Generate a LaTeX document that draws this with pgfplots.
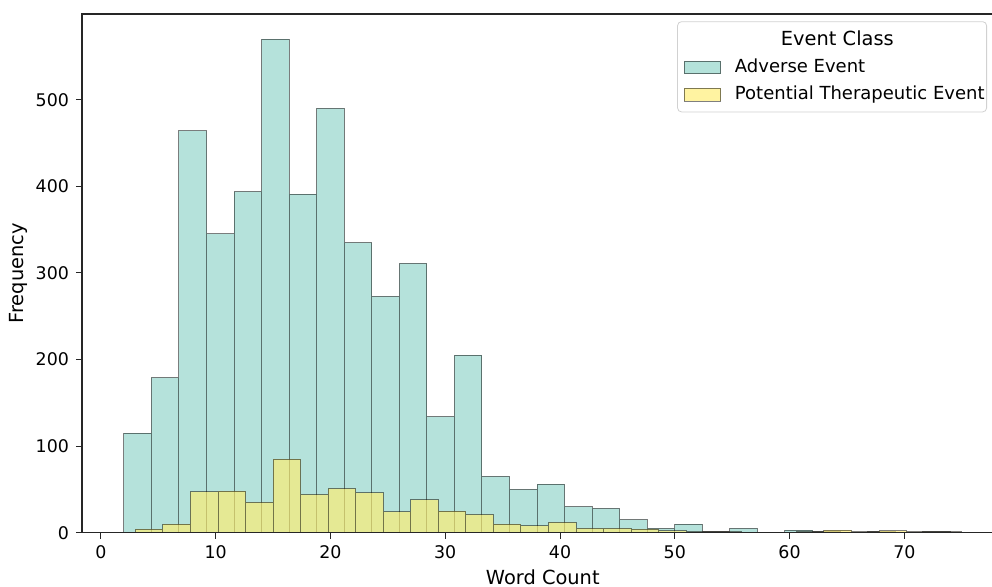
\documentclass[border=0pt]{standalone}
\usepackage{fontspec}
\setmainfont{DejaVu Sans}
\usepackage{pgfplots}
\pgfplotsset{compat=1.18}
\usepackage{pgfplotstable}
\definecolor{tealthree}{HTML}{8DD3C7}
\definecolor{yelthree}{HTML}{FFED6F}
\pgfplotsset{mylegend/.style={legend image code/.code={\path (-2.5pt,0pt); \draw[##1, sharp corners, line width=0.4pt] (0pt,-3.15pt) rectangle (18.3pt,3.15pt); \path (24.7pt,0pt);}}}

\pgfplotstableread{
x y
2.0 115
4.4 179
6.8 464
9.2 345
11.6 394
14.0 570
16.4 391
18.8 490
21.2 335
23.6 273
26.0 311
28.4 134
30.8 205
33.2 65
35.6 50
38.0 56
40.4 30
42.8 28
45.2 15
47.6 5
50.0 10
52.4 1
54.8 5
57.2 0
59.6 3
62.0 1
64.4 0
66.8 1
69.2 0
71.6 1
74.0 0
}\adverse

\pgfplotstableread{
x y
3.0 4
5.4 10
7.8 47
10.2 48
12.6 35
15.0 85
17.4 44
19.8 51
22.2 46
24.6 24
27.0 38
29.4 25
31.8 21
34.2 10
36.6 8
39.0 12
41.4 5
43.8 5
46.2 4
48.6 2
51.0 1
53.4 1
55.8 0
58.2 0
60.6 1
63.0 3
65.4 1
67.8 2
70.2 1
72.6 1
75.0 0
}\therapeutic

\begin{document}
\begin{tikzpicture}
\begin{axis}[
  at={(0,0)}, anchor=south west,
  scale only axis, width=460.8pt, height=259.35pt,
  xmin=-1.65, xmax=78.65, ymin=0, ymax=599,
  xtick={0,10,...,70}, ytick={0,100,...,500},
  tick pos=left,
  tick align=outside, major tick length=3pt,
  tick style={black!85, line width=0.5pt},
  axis line style={black!85, line width=0.6pt},
  axis on top,
  ticklabel style={font=\fontsize{8.7}{10}\selectfont},
  /pgf/number format/assume math mode=true,
  xlabel={Word Count}, ylabel={Frequency},
  label style={font=\fontsize{9.7}{11}\selectfont},
  xlabel style={at={([yshift=-25.8pt]axis description cs:0.5,0)}, anchor=base},
  ylabel style={at={([xshift=-31.75pt]axis description cs:0,0.5)}, anchor=center},
  legend style={at={(rel axis cs:0.982,0.986)}, anchor=north east,
    draw=black!18, rounded corners=2pt, fill=white,
    font=\fontsize{9}{10.5}\selectfont, inner xsep=0.5pt, inner ysep=2.5pt,
    row sep=1.3pt, nodes={inner xsep=0.5pt}},
  legend cell align=left,
]
\addlegendimage{empty legend}
\addlegendentry{\hspace*{23pt}\fontsize{9.7}{11}\selectfont Event Class}
\addplot[ybar interval, fill=tealthree, fill opacity=0.65, draw=black, draw opacity=0.5, line width=0.5pt, mylegend]
  table[x=x,y=y]{\adverse};
\addlegendentry{Adverse Event}
\addplot[ybar interval, fill=yelthree, fill opacity=0.65, draw=black, draw opacity=0.5, line width=0.5pt, mylegend]
  table[x=x,y=y]{\therapeutic};
\addlegendentry{Potential Therapeutic Event}
\end{axis}
\pgfresetboundingbox
\useasboundingbox ([xshift=-41pt, yshift=-27.15pt]current axis.south west) rectangle ([xshift=-5.8pt, yshift=7pt]current axis.north east);
\end{tikzpicture}
\end{document}
